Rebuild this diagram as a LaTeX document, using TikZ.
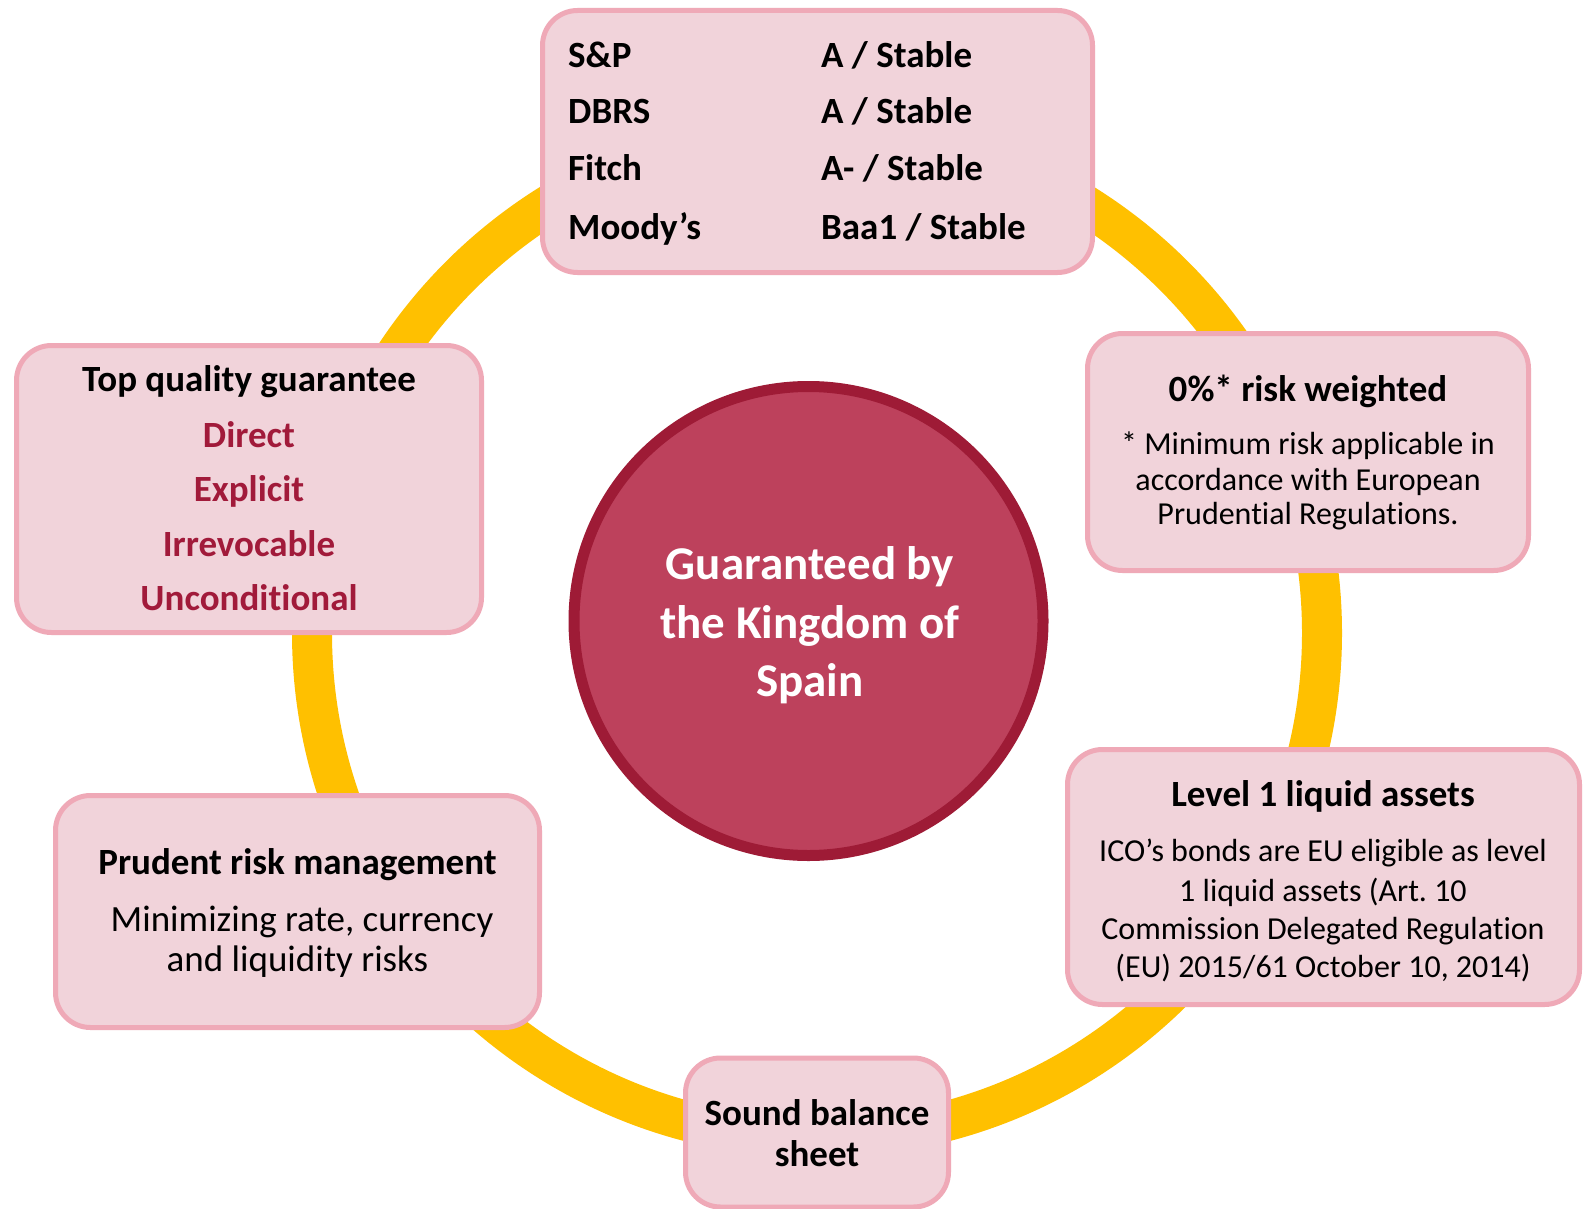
\documentclass[tikz,border=0pt]{standalone}
\usepackage{fontspec}
\setmainfont{Carlito}[Ligatures={NoCommon}]
\frenchspacing
\definecolor{ringyellow}{HTML}{FFC000}
\definecolor{boxfill}{HTML}{F1D3DA}
\definecolor{boxline}{HTML}{EFA9B7}
\definecolor{circfill}{HTML}{BD415C}
\definecolor{circline}{HTML}{9E1B36}
\definecolor{redtext}{HTML}{A11A3A}
\begin{document}
\begin{tikzpicture}[x=1pt,y=-1pt,
  box/.style={draw=boxline, fill=boxfill, line width=5pt, rounded corners=35pt, inner sep=0pt, outer sep=0pt},
  ttl/.style={font=\fontsize{37}{44}\selectfont\bfseries, anchor=base, inner sep=0pt},
  bodys/.style={font=\fontsize{32}{38}\selectfont, anchor=base, inner sep=0pt},
  bodyl/.style={font=\fontsize{37}{44}\selectfont, anchor=base, inner sep=0pt},
  rate/.style={font=\fontsize{37}{44}\selectfont\bfseries, anchor=base west, inner sep=0pt},
  redt/.style={ttl, text=redtext},
  ctext/.style={font=\fontsize{47}{56}\selectfont\bfseries, anchor=base, inner sep=0pt, text=white}]
\useasboundingbox (0,0) rectangle (1587,1209);
\fill[white] (0,0) rectangle (1587,1209);

% yellow ring
\draw[ringyellow, line width=40pt] (817,633) circle[radius=505];

% central circle
\node[circle, draw=circline, fill=circfill, line width=11pt, minimum size=469pt, inner sep=0pt] (core) at (808.5,621) {};
\node[ctext] (c1) at (810,579) {Guaranteed by};
\node[ctext] (c2) at (810,638) {the Kingdom of};
\node[ctext] (c3) at (810,696) {Spain};

% boxes
\node[box, minimum width=550pt, minimum height=262pt] (topbox) at (817.5,141.5) {};
\node[box, minimum width=465pt, minimum height=287pt] (ltbox) at (249,489) {};
\node[box, minimum width=441pt, minimum height=237pt] (rtbox) at (1308,452) {};
\node[box, minimum width=512pt, minimum height=255pt] (rbbox) at (1323.5,877) {};
\node[box, minimum width=484pt, minimum height=232pt] (lbbox) at (297.5,911.5) {};
\node[box, minimum width=263pt, minimum height=149pt] (bbox) at (817,1132.5) {};

% ratings
\node[rate] (r1a) at (568,68) {S\&P};
\node[rate] (r2a) at (568,124) {DBRS};
\node[rate] (r3a) at (568,181) {Fitch};
\node[rate] (r4a) at (568,239) {Moody’s};
\node[rate] (r1b) at (821,68) {A / Stable};
\node[rate] (r2b) at (821,124) {A / Stable};
\node[rate] (r3b) at (821,181) {A- / Stable};
\node[rate] (r4b) at (821,239) {Baa1 / Stable};

% top quality guarantee
\node[ttl] (q0) at (249,391) {Top quality guarantee};
\node[redt] (q1) at (249,447) {Direct};
\node[redt] (q2) at (249,501) {Explicit};
\node[redt] (q3) at (249,556) {Irrevocable};
\node[redt] (q4) at (249,610) {Unconditional};

% risk weighted
\node[ttl] (w0) at (1308,401) {0\%* risk weighted};
\node[bodys] (w1) at (1308,454) {* Minimum risk applicable in};
\node[bodys] (w2) at (1308,490) {accordance with European};
\node[bodys] (w3) at (1308,524) {Prudential Regulations.};

% level 1
\node[ttl] (l0) at (1323,806) {Level 1 liquid assets};
\node[bodys] (l1) at (1323,861) {ICO’s bonds are EU eligible as level};
\node[bodys] (l2) at (1323,901) {1 liquid assets (Art. 10};
\node[bodys] (l3) at (1323,939) {Commission Delegated Regulation};
\node[bodys] (l4) at (1323,977) {(EU) 2015/61 October 10, 2014)};

% prudent risk
\node[ttl] (p0) at (297.5,874) {Prudent risk management};
\node[bodyl] (p1) at (302,931) {Minimizing rate, currency};
\node[bodyl] (p2) at (297.5,971) {and liquidity risks};

% sound balance
\node[ttl] (s1) at (817,1125) {Sound balance};
\node[ttl] (s2) at (817,1166) {sheet};
\end{tikzpicture}
\end{document}
